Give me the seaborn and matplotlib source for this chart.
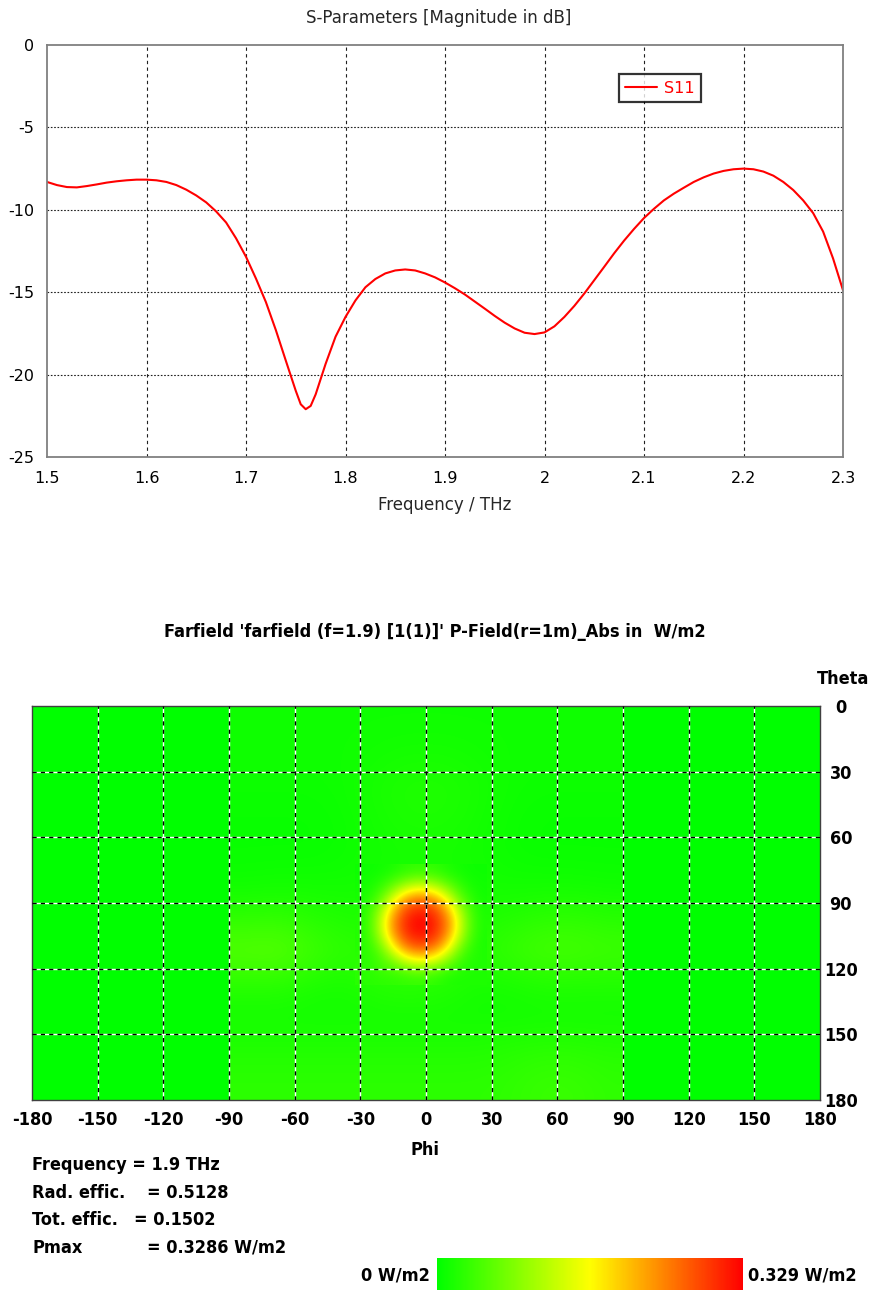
import numpy as np
import pandas as pd
import matplotlib
matplotlib.use("Agg")
import matplotlib.pyplot as plt
import seaborn as sns
from matplotlib import font_manager
from matplotlib.colors import LinearSegmentedColormap

# ---------------- data: S11 curve ----------------
freq_thz = [1.50, 1.51, 1.52, 1.53, 1.54, 1.55, 1.56, 1.57, 1.58, 1.59,
            1.60, 1.61, 1.62, 1.63, 1.64, 1.65, 1.66, 1.67, 1.68, 1.69,
            1.70, 1.71, 1.72, 1.73, 1.74, 1.75, 1.755, 1.76, 1.765, 1.77,
            1.78, 1.79, 1.80, 1.81, 1.82, 1.83, 1.84, 1.85, 1.86, 1.87,
            1.88, 1.89, 1.90, 1.91, 1.92, 1.93, 1.94, 1.95, 1.96, 1.97,
            1.98, 1.99, 2.00, 2.01, 2.02, 2.03, 2.04, 2.05, 2.06, 2.07,
            2.08, 2.09, 2.10, 2.11, 2.12, 2.13, 2.14, 2.15, 2.16, 2.17,
            2.18, 2.19, 2.20, 2.21, 2.22, 2.23, 2.24, 2.25, 2.26, 2.27,
            2.28, 2.29, 2.30]
s11_db = [-8.31, -8.50, -8.62, -8.64, -8.56, -8.46, -8.35, -8.27, -8.21, -8.17,
          -8.17, -8.21, -8.31, -8.50, -8.78, -9.13, -9.55, -10.1, -10.77, -11.73,
          -12.85, -14.17, -15.6, -17.3, -19.15, -20.98, -21.8, -22.1, -21.9, -21.2,
          -19.35, -17.7, -16.5, -15.5, -14.7, -14.2, -13.86, -13.68, -13.62, -13.68,
          -13.86, -14.1, -14.41, -14.76, -15.14, -15.57, -16.0, -16.44, -16.85, -17.2,
          -17.46, -17.54, -17.44, -17.07, -16.5, -15.83, -15.08, -14.27, -13.46, -12.64,
          -11.87, -11.16, -10.5, -9.94, -9.43, -9.02, -8.66, -8.31, -8.03, -7.8,
          -7.64, -7.54, -7.5, -7.54, -7.68, -7.93, -8.31, -8.8, -9.43, -10.2,
          -11.32, -12.95, -14.88]
freq_ticks = [1.5, 1.6, 1.7, 1.8, 1.9, 2.0, 2.1, 2.2, 2.3]
freq_ticklabels = ["1.5", "1.6", "1.7", "1.8", "1.9", "2", "2.1", "2.2", "2.3"]
db_ticks = [0, -5, -10, -15, -20, -25]

# ---------------- data: farfield map (W/m2) ----------------
phi_ticks = [-180, -150, -120, -90, -60, -30, 0, 30, 60, 90, 120, 150, 180]
theta_ticks = [0, 30, 60, 90, 120, 150, 180]

# coarse samples (cell centres) over the lit half, phi -90..90
theta_coarse = [7.5, 22.5, 37.5, 52.5, 67.5, 82.5, 97.5, 112.5, 127.5, 142.5, 157.5, 172.5]
phi_coarse = [-82.5, -67.5, -52.5, -37.5, -22.5, -7.5, 7.5, 22.5, 37.5, 52.5, 67.5, 82.5]
power_coarse = [
    [.010, .010, .010, .010, .010, .010, .010, .010, .010, .010, .010, .010],
    [.010, .010, .010, .010, .012, .014, .014, .012, .010, .010, .010, .010],
    [.008, .008, .008, .010, .016, .020, .020, .016, .010, .008, .008, .008],
    [.006, .006, .006, .008, .014, .018, .018, .014, .008, .006, .006, .006],
    [.006, .006, .006, .008, .012, .014, .014, .012, .008, .006, .006, .006],
    [.010, .012, .012, .012, .014, .016, .016, .014, .012, .012, .012, .010],
    [.030, .032, .025, .020, .018, .016, .016, .018, .022, .028, .030, .025],
    [.055, .058, .042, .030, .030, .030, .030, .025, .035, .045, .045, .040],
    [.025, .025, .018, .015, .025, .028, .025, .015, .015, .020, .020, .020],
    [.012, .012, .012, .012, .012, .012, .012, .012, .012, .012, .012, .012],
    [.022, .022, .022, .022, .022, .022, .022, .022, .025, .028, .028, .025],
    [.028, .028, .028, .028, .028, .028, .028, .028, .030, .036, .036, .030],
]

# fine samples around the main beam, 5 deg spacing
theta_fine = [75, 80, 85, 90, 95, 100, 105, 110, 115, 120, 125]
phi_fine = [-30, -25, -20, -15, -10, -5, 0, 5, 10, 15, 20, 25]
power_fine = [
    [.008, .009, .012, .018, .028, .032, .032, .028, .018, .012, .009, .008],
    [.010, .013, .025, .045, .068, .085, .085, .068, .045, .025, .012, .010],
    [.012, .022, .050, .100, .155, .185, .185, .155, .100, .050, .022, .011],
    [.014, .035, .085, .170, .240, .272, .272, .240, .170, .085, .035, .014],
    [.018, .050, .125, .220, .285, .310, .310, .285, .220, .125, .050, .018],
    [.020, .055, .140, .240, .296, .326, .326, .296, .240, .140, .055, .020],
    [.020, .050, .125, .220, .285, .310, .310, .285, .220, .125, .050, .018],
    [.022, .038, .087, .170, .240, .272, .272, .240, .170, .085, .035, .018],
    [.026, .030, .055, .100, .155, .185, .185, .155, .100, .050, .025, .020],
    [.028, .030, .045, .050, .070, .085, .085, .068, .045, .028, .020, .020],
    [.025, .026, .028, .030, .032, .035, .033, .028, .020, .018, .018, .018],
]
p_max = 0.329

info_labels = ["Rad. effic.", "Tot. effic.", "Pmax"]
info_values = ["= 0.5128", "= 0.1502", "= 0.3286 W/m2"]

# ---------------- style ----------------
sns.set_style("white")
plt.rcParams["font.family"] = ["DejaVu Sans"]
plt.rcParams["axes.unicode_minus"] = False

names = {f.name for f in font_manager.fontManager.ttflist}
if "Liberation Sans Narrow" in names:
    cond_family = ["Liberation Sans Narrow", "DejaVu Sans"]
    cond_stretch = "normal"
    cond_size = 15.5
else:
    cond_family = ["DejaVu Sans"]
    cond_stretch = "condensed"
    cond_size = 13
cfont = dict(family=cond_family, fontweight="bold", fontstretch=cond_stretch,
             fontsize=cond_size, color="black")

W, H = 873, 1291
fig = plt.figure(figsize=(W / 100, H / 100), dpi=100, facecolor="white")

# ================= top: S-parameters =================
ax1 = fig.add_axes([47 / W, 1 - 457 / H, 796 / W, 412 / H])
df = pd.DataFrame({"Frequency": freq_thz, "S11": s11_db})
sns.lineplot(data=df, x="Frequency", y="S11", ax=ax1, color="#ff0000",
             linewidth=1.5, label="S11")
ax1.set_xlim(1.5, 2.3)
ax1.set_ylim(-25, 0)
ax1.set_xticks(freq_ticks)
ax1.set_xticklabels(freq_ticklabels)
ax1.set_yticks(db_ticks)
ax1.set_xlabel("")
ax1.set_ylabel("")
for x in freq_ticks[1:-1]:
    ax1.axvline(x, color="#202020", lw=0.8, ls=(0, (3, 3)), zorder=1)
for y in db_ticks[1:-1]:
    ax1.axhline(y, color="#202020", lw=0.8, ls=(0, (1.5, 1.5)), zorder=1)
for s in ax1.spines.values():
    s.set_color("#808080")
    s.set_linewidth(1.3)
ax1.tick_params(axis="both", direction="out", length=4, width=1, color="#808080",
                labelsize=11.5, labelcolor="black", pad=5)
ax1.tick_params(axis="x", pad=6)
leg = ax1.legend(loc="center", bbox_to_anchor=(0.770, 0.8956), fontsize=11.5,
                 frameon=True, fancybox=False, labelcolor="#ff0000",
                 handlelength=2.0, handletextpad=0.4, borderpad=0.4,
                 borderaxespad=0)
leg.get_frame().set_edgecolor("black")
leg.get_frame().set_linewidth(1.6)
fig.text(439 / W, 1 - 18 / H, "S-Parameters [Magnitude in dB]", ha="center",
         va="center", fontsize=12)
fig.text(445 / W, 1 - 505 / H, "Frequency / THz", ha="center", va="center",
         fontsize=12)

# ================= bottom: farfield map =================
cmap = LinearSegmentedColormap.from_list("ff", ["#00ff00", "#ffff00", "#ff0000"])
ax2 = fig.add_axes([32 / W, 1 - 1100 / H, 788 / W, 394 / H])
ax2.set_facecolor(cmap(0.0))
dp = phi_coarse[1] - phi_coarse[0]
dt = theta_coarse[1] - theta_coarse[0]
im = ax2.imshow(np.array(power_coarse), cmap=cmap, vmin=0, vmax=p_max,
                extent=[phi_coarse[0] - dp / 2, phi_coarse[-1] + dp / 2,
                        theta_coarse[-1] + dt / 2, theta_coarse[0] - dt / 2],
                interpolation="bicubic", interpolation_stage="data",
                aspect="auto", zorder=0)
dpf = phi_fine[1] - phi_fine[0]
dtf = theta_fine[1] - theta_fine[0]
ax2.imshow(np.array(power_fine), cmap=cmap, vmin=0, vmax=p_max,
           extent=[phi_fine[0] - dpf / 2, phi_fine[-1] + dpf / 2,
                   theta_fine[-1] + dtf / 2, theta_fine[0] - dtf / 2],
           interpolation="bicubic", interpolation_stage="data",
           aspect="auto", zorder=0.5)
ax2.set_xlim(-180, 180)
ax2.set_ylim(180, 0)
for x in phi_ticks[1:-1]:
    ax2.axvline(x, color="white", lw=1.0, zorder=2)
    ax2.axvline(x, color="black", lw=1.0, ls=(0, (3, 3)), zorder=3)
for y in theta_ticks[1:-1]:
    ax2.axhline(y, color="white", lw=1.0, zorder=2)
    ax2.axhline(y, color="black", lw=1.0, ls=(0, (3, 3)), zorder=3)
for s in ax2.spines.values():
    s.set_color("#404040")
    s.set_linewidth(1.0)
ax2.set_xticks(phi_ticks)
ax2.set_xticklabels([str(v) for v in phi_ticks], **cfont)
ax2.yaxis.tick_right()
ax2.set_yticks(theta_ticks)
ax2.set_yticklabels([str(v) for v in theta_ticks], **cfont)
for lab in ax2.get_yticklabels():
    lab.set_horizontalalignment("center")
ax2.tick_params(axis="x", length=0, pad=8)
ax2.tick_params(axis="y", length=0, pad=15)
ax2.set_xlabel("")
ax2.set_ylabel("")

fig.text(435 / W, 1 - 632 / H,
         "Farfield 'farfield (f=1.9) [1(1)]' P-Field(r=1m)_Abs in  W/m2",
         ha="center", va="center", **cfont)
fig.text(843 / W, 1 - 679 / H, "Theta", ha="center", va="center", **cfont)
fig.text(425 / W, 1 - 1150 / H, "Phi", ha="center", va="center", **cfont)

fig.text(32 / W, 1 - 1165 / H, "Frequency = 1.9 THz", ha="left", va="center", **cfont)
info_y = [1193, 1220, 1248]
info_x = [147, 134, 147]
for lab, val, yy, xx in zip(info_labels, info_values, info_y, info_x):
    fig.text(32 / W, 1 - yy / H, lab, ha="left", va="center", **cfont)
    fig.text(xx / W, 1 - yy / H, val, ha="left", va="center", **cfont)

cax = fig.add_axes([437 / W, 1 - 1290 / H, 306 / W, 32 / H])
cb = fig.colorbar(im, cax=cax, orientation="horizontal")
cb.outline.set_visible(False)
cax.set_xticks([])
cax.set_yticks([])
fig.text(430 / W, 1 - 1275 / H, "0 W/m2", ha="right", va="center", **cfont)
fig.text(748 / W, 1 - 1275 / H, "0.329 W/m2", ha="left", va="center", **cfont)

fig.savefig("out.png", dpi=100, facecolor="white")
